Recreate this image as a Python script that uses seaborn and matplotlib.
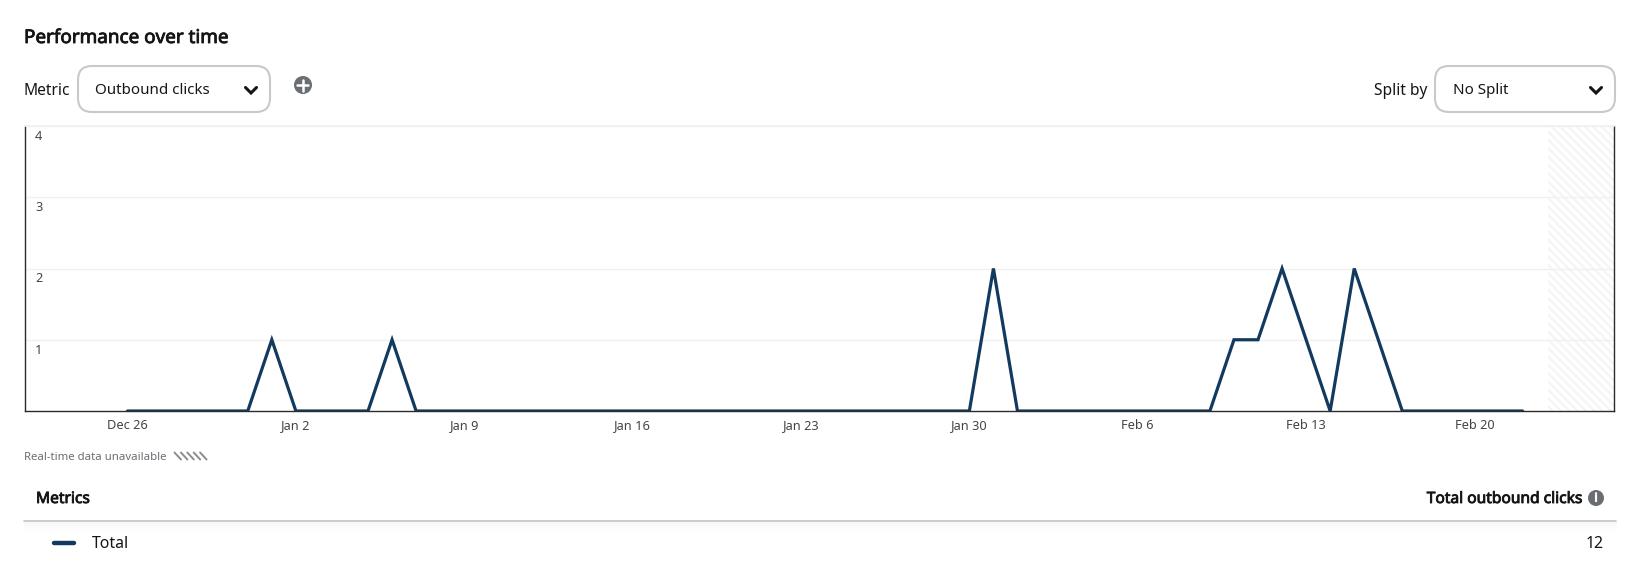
import datetime as dt
import matplotlib
matplotlib.use('AGG')
import matplotlib.pyplot as plt
import matplotlib.dates as mdates
import matplotlib.patheffects as pe
from matplotlib.patches import FancyBboxPatch, Circle
from matplotlib.transforms import ScaledTranslation
import pandas as pd
import seaborn as sns

# daily outbound clicks, first point is Dec 26
start_date = '2021-12-26'
clicks = [0, 0, 0, 0, 0, 0, 1, 0, 0, 0, 0, 1, 0, 0, 0, 0, 0, 0, 0, 0,
          0, 0, 0, 0, 0, 0, 0, 0, 0, 0, 0, 0, 0, 0, 0, 0, 2, 0, 0, 0,
          0, 0, 0, 0, 0, 0, 1, 1, 2, 1, 0, 2, 1, 0, 0, 0, 0, 0, 0]
y_ticks = [1, 2, 3, 4]
x_tick_dates = ['2021-12-26', '2022-01-02', '2022-01-09', '2022-01-16', '2022-01-23',
                '2022-01-30', '2022-02-06', '2022-02-13', '2022-02-20']
x_tick_labels = ['Dec 26', 'Jan 2', 'Jan 9', 'Jan 16', 'Jan 23', 'Jan 30', 'Feb 6', 'Feb 13', 'Feb 20']

NAVY = '#123a5f'
TEXT = '#151515'
W, H = 1640, 581

sns.set_theme(style='white')
plt.rcParams['font.family'] = ['Noto Sans', 'DejaVu Sans']
plt.rcParams['hatch.linewidth'] = 1.7

fig = plt.figure(figsize=(W / 100, H / 100), dpi=100, facecolor='white')

# chart area, placed in pixels
left, right, top, bottom = 25.5, 1614, 126, 411
ax = fig.add_axes([left / W, 1 - bottom / H, (right - left) / W, (bottom - top) / H])

d = pd.DataFrame({'date': pd.date_range(start_date, periods=len(clicks)), 'clicks': clicks})
d0 = d['date'].iloc[0]
sns.lineplot(data=d, x='date', y='clicks', color=NAVY, linewidth=2.3, ax=ax, errorbar=None,
             solid_joinstyle='miter')
ax.set_xlim(d0 - dt.timedelta(days=4.24), d0 + dt.timedelta(days=61.8))
ax.set_ylim(0, 4)
ax.set_xlabel('')
ax.set_ylabel('')

# striped block after the last day
ax.axvspan(mdates.date2num(d['date'].iloc[-1] + dt.timedelta(days=1.04)), ax.get_xlim()[1],
           facecolor='white', edgecolor='#f5f5f5', hatch='\\\\\\\\', linewidth=0, zorder=0)

ax.set_yticks(y_ticks)
ax.set_yticklabels([str(v) for v in y_ticks], ha='left', va='top')
ax.tick_params(axis='y', length=0, pad=-6.8, labelsize=9.2, labelcolor='#444444', direction='in')
shift = ScaledTranslation(0, -4 / 100, fig.dpi_scale_trans)
for lab in ax.get_yticklabels():
    lab.set_transform(lab.get_transform() + shift)
ax.set_xticks(mdates.date2num(pd.to_datetime(x_tick_dates)))
ax.set_xticklabels(x_tick_labels)
ax.tick_params(axis='x', length=0, pad=5.5, labelsize=9.2, labelcolor='#444444')
ax.grid(axis='y', color='#f0f0f0', linewidth=1)
ax.set_axisbelow(True)
for side in ['left', 'right', 'bottom']:
    ax.spines[side].set_color('#2b2b2b')
    ax.spines[side].set_linewidth(1.0)
ax.spines['top'].set_color('#f0f0f0')

# page furniture in pixel coordinates
ui = fig.add_axes([0, 0, 1, 1], facecolor='none')
ui.set_xlim(0, W)
ui.set_ylim(H, 0)
ui.axis('off')

# Noto Sans has no bold face here, so thicken it with a thin outline
heavy = [pe.withStroke(linewidth=0.6, foreground=TEXT)]


def dropdown(x0, x1, y0, y1):
    ui.add_patch(FancyBboxPatch((x0 + 14, y0 + 14), x1 - x0 - 28, y1 - y0 - 28,
                                boxstyle='round,pad=14,rounding_size=14', facecolor='white',
                                edgecolor='#c9c9c9', linewidth=1.5))
    cx, cy = x1 - 19, (y0 + y1) / 2 + 1.5
    ui.plot([cx - 5.5, cx, cx + 5.5], [cy - 3, cy + 2.5, cy - 3], color=TEXT, linewidth=2.2,
            solid_capstyle='round', solid_joinstyle='miter')


ui.text(24, 38, 'Performance over time', fontsize=13.6, color=TEXT, va='center', path_effects=heavy)

ui.text(24, 91, 'Metric', fontsize=11.2, color=TEXT, va='center')
dropdown(78, 270, 66, 112)
ui.text(95.5, 91, 'Outbound clicks', fontsize=10.9, color=TEXT, va='center')

ui.add_patch(Circle((303, 85), 9, facecolor='#6a6e73', edgecolor='none'))
ui.plot([297.5, 308.5], [85, 85], color='white', linewidth=1.8)
ui.plot([303, 303], [79.5, 90.5], color='white', linewidth=1.8)

ui.text(1427, 91, 'Split by', fontsize=11.2, color=TEXT, va='center', ha='right')
dropdown(1435, 1615, 66, 112)
ui.text(1453.5, 91, 'No Split', fontsize=10.9, color=TEXT, va='center')

ui.text(24, 457, 'Real-time data unavailable', fontsize=8.2, color='#6a6e73', va='center')
for i in range(5):
    ui.plot([174.5 + i * 6.4, 181 + i * 6.4], [452.5, 459.5], color='#8a8d90', linewidth=1.4)

ui.text(36, 499, 'Metrics', fontsize=11.2, color=TEXT, va='center', path_effects=heavy)
ui.text(1583, 499, 'Total outbound clicks', fontsize=11.2, color=TEXT,
        va='center', ha='right', path_effects=heavy)
ui.add_patch(Circle((1596, 498), 8, facecolor='#6a6e73', edgecolor='none'))
ui.text(1596, 498, 'i', fontsize=8.5, color='white', ha='center', va='center',
        path_effects=[pe.withStroke(linewidth=0.8, foreground='white')])

ui.plot([24, 1616], [520.5, 520.5], color='#c4c4c4', linewidth=1.2)
for i in range(10):
    ui.plot([24, 1616], [522 + i, 522 + i], color='#000000', alpha=0.022 * (10 - i) / 10, linewidth=1)

ui.plot([54, 74], [543, 543], color=NAVY, linewidth=3.2, solid_capstyle='round')
ui.text(92, 544, 'Total', fontsize=11.4, color=TEXT, va='center')
ui.text(1604, 544, str(sum(clicks)), fontsize=11.4, color=TEXT, va='center', ha='right')

fig.savefig('out.png', dpi=100)
